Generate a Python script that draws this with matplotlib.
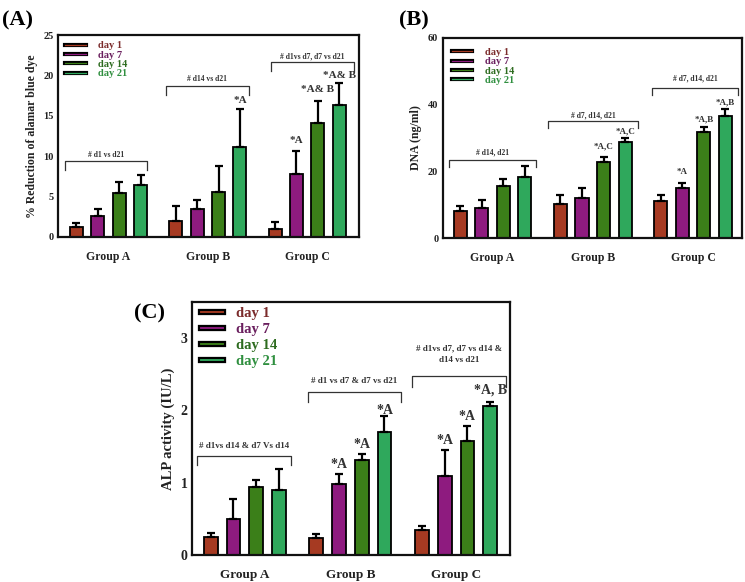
import matplotlib
matplotlib.use("Agg")
import matplotlib.pyplot as plt
import numpy as np
from matplotlib.lines import Line2D
from matplotlib.legend_handler import HandlerTuple

plt.rcParams['font.family'] = ['Liberation Serif', 'DejaVu Serif']
plt.rcParams['font.weight'] = 'bold'

# --- data ---
groups = ["Group A", "Group B", "Group C"]
days = ["day 1", "day 7", "day 14", "day 21"]
bar_colors = ["#a63a22", "#8e1b7f", "#3b7f19", "#2fa85c"]
text_colors = ["#7b2b2b", "#6a1f5e", "#2d6b1f", "#2f8f3f"]

# alamar blue (% reduction), rows = days, cols = groups
alamar_mean = [[1.24, 2.02, 1.0], [2.64, 3.5, 7.8], [5.41, 5.54, 14.13], [6.49, 11.16, 16.36]]
alamar_err = [[0.5, 1.78, 0.9], [0.83, 1.05, 2.86], [1.39, 3.26, 2.73], [1.2, 4.64, 2.74]]

# DNA (ng/ml)
dna_mean = [[8.3, 10.4, 11.2], [9.2, 12.0, 15.0], [15.7, 22.8, 31.9], [18.4, 28.8, 36.7]]
dna_err = [[1.3, 2.6, 1.7], [2.4, 3.0, 1.5], [2.0, 1.6, 1.5], [3.3, 1.1, 2.0]]

# ALP activity (IU/L)
alp_mean = [[0.257, 0.243, 0.354], [0.505, 0.988, 1.10], [0.946, 1.314, 1.58], [0.90, 1.695, 2.06]]
alp_err = [[0.045, 0.05, 0.05], [0.27, 0.14, 0.36], [0.09, 0.09, 0.205], [0.29, 0.225, 0.06]]

# significance brackets: (x0, x1, y_line, y_foot, y_text, text)
alamar_brackets = [(-0.441, 0.391, 9.38, 8.35, 10.2, "# d1 vs d21"),
                   (0.575, 1.411, 18.7, 17.6, 19.5, "# d14 vs d21"),
                   (1.639, 2.471, 21.7, 20.6, 22.4, "# d1vs d7, d7 vs d21")]
dna_brackets = [(-0.432, 0.429, 23.4, 21.4, 25.6, "# d14, d21"),
                (0.558, 1.452, 35.1, 33.0, 36.9, "# d7, d14, d21"),
                (1.595, 2.449, 44.9, 42.9, 47.9, "# d7, d14, d21")]
alp_brackets = [(-0.448, 0.435, 1.369, 1.24, 1.51, "# d1vs d14 & d7 Vs d14"),
                (0.596, 1.479, 2.255, 2.11, 2.41, "# d1 vs d7 & d7 vs d21"),
                (1.587, 2.47, 2.47, 2.32, 2.77, "# d1vs d7, d7 vs d14 &\nd14 vs d21")]

# star labels: (group index, day index, y, text)
alamar_stars = [(1, 3, 16.9, "*A"), (2, 1, 12.0, "*A"), (2, 2, 18.2, "*A& B"), (2, 3, 20.0, "*A& B")]
dna_stars = [(1, 2, 27.4, "*A,C"), (1, 3, 31.9, "*A,C"), (2, 1, 19.9, "*A"),
             (2, 2, 35.7, "*A,B"), (2, 3, 40.7, "*A,B")]
alp_stars = [(1, 1, 1.254, "*A"), (1, 2, 1.53, "*A"), (1, 3, 2.0, "*A"),
             (2, 1, 1.59, "*A"), (2, 2, 1.92, "*A"), (2, 3, 2.28, "*A, B")]

step = 0.215
width = 0.13
offsets = (np.arange(4) - 1.5) * step


def draw_panel(ax, mean, err, brackets, stars, ylim, yticks, ylabel, xlim,
               fs_tick, fs_group, fs_ylab, fs_br, fs_star, leg_kw):
    x = np.arange(len(groups))
    for i in range(4):
        ax.bar(x + offsets[i], mean[i], width, color=bar_colors[i],
               edgecolor="black", linewidth=1.3, zorder=2)
        ax.errorbar(x + offsets[i], mean[i], yerr=[np.zeros(3), err[i]], fmt="none",
                    ecolor="black", elinewidth=1.6, capsize=2.8, capthick=1.6, zorder=3)
    for x0, x1, yl, yf, yt, txt in brackets:
        ax.plot([x0, x0, x1, x1], [yf, yl, yl, yf], color="#333333", lw=0.9)
        ax.text((x0 + x1) / 2, yt, txt, ha="center", va="center", fontsize=fs_br,
                fontweight="bold", color="#333333", linespacing=1.6)
    for g, d, y, txt in stars:
        ax.text(g + offsets[d], y, txt, ha="center", va="center", fontsize=fs_star,
                fontweight="bold", color="#333333")
    ax.set_xlim(*xlim)
    ax.set_ylim(*ylim)
    ax.set_yticks(yticks)
    ax.set_xticks(x)
    ax.set_xticklabels(groups, fontsize=fs_group, fontweight="bold", color="#222222")
    ax.tick_params(axis="x", length=0, pad=10)
    ax.tick_params(axis="y", length=0, pad=3, labelsize=fs_tick, labelcolor="#222222")
    for lab in ax.get_yticklabels():
        lab.set_fontweight("bold")
    ax.set_ylabel(ylabel, fontsize=fs_ylab, fontweight="bold", color="#222222")
    for s in ax.spines.values():
        s.set_linewidth(1.6)
        s.set_color("#111111")
    handles = [(Line2D([], [], color="black", lw=leg_kw["lw"]),
                Line2D([], [], color=c, lw=leg_kw["lw"] * 0.3)) for c in bar_colors]
    leg = ax.legend(handles, days, handler_map={tuple: HandlerTuple(ndivide=1, pad=0)},
                    loc="upper left", bbox_to_anchor=leg_kw["anchor"], frameon=False,
                    fontsize=leg_kw["fs"], handlelength=leg_kw["hl"],
                    handletextpad=leg_kw["pad"], labelspacing=leg_kw["ls"],
                    borderaxespad=0, borderpad=0)
    for t, c in zip(leg.get_texts(), text_colors):
        t.set_color(c)
        t.set_fontweight("bold")


fig = plt.figure(figsize=(7.45, 5.82), dpi=100)

axA = fig.add_axes([0.0779, 0.5928, 0.404, 0.347])
draw_panel(axA, alamar_mean, alamar_err, alamar_brackets, alamar_stars,
           (0, 25), [0, 5, 10, 15, 20, 25], "% Reduction of alamar blue dye",
           (-0.508, 2.522), 7.5, 8.5, 8.5, 5.5, 8,
           dict(anchor=(0.023, 0.97), fs=7.5, hl=2.0, pad=1.2, ls=0.0, lw=3.0))

axB = fig.add_axes([0.594, 0.5905, 0.402, 0.3447])
draw_panel(axB, dna_mean, dna_err, dna_brackets, dna_stars,
           (0, 60), [0, 20, 40, 60], "DNA (ng/ml)",
           (-0.498, 2.488), 7.5, 8.5, 8.5, 5.5, 6.5,
           dict(anchor=(0.03, 0.95), fs=7.5, hl=2.0, pad=1.2, ls=0.0, lw=3.0))

axC = fig.add_axes([0.2573, 0.0459, 0.4273, 0.4357])
draw_panel(axC, alp_mean, alp_err, alp_brackets, alp_stars,
           (0, 3.5), [0, 1, 2, 3], "ALP activity (IU/L)",
           (-0.502, 2.511), 10, 9.5, 10.5, 6.5, 10,
           dict(anchor=(0.03, 0.98), fs=10.5, hl=1.5, pad=0.9, ls=0.2, lw=4.5))

fig.text(0.003, 0.965, "(A)", fontsize=16, fontweight="bold", va="center", ha="left")
fig.text(0.535, 0.965, "(B)", fontsize=16, fontweight="bold", va="center", ha="left")
fig.text(0.180, 0.462, "(C)", fontsize=16, fontweight="bold", va="center", ha="left")

fig.savefig("out.png", dpi=100)
